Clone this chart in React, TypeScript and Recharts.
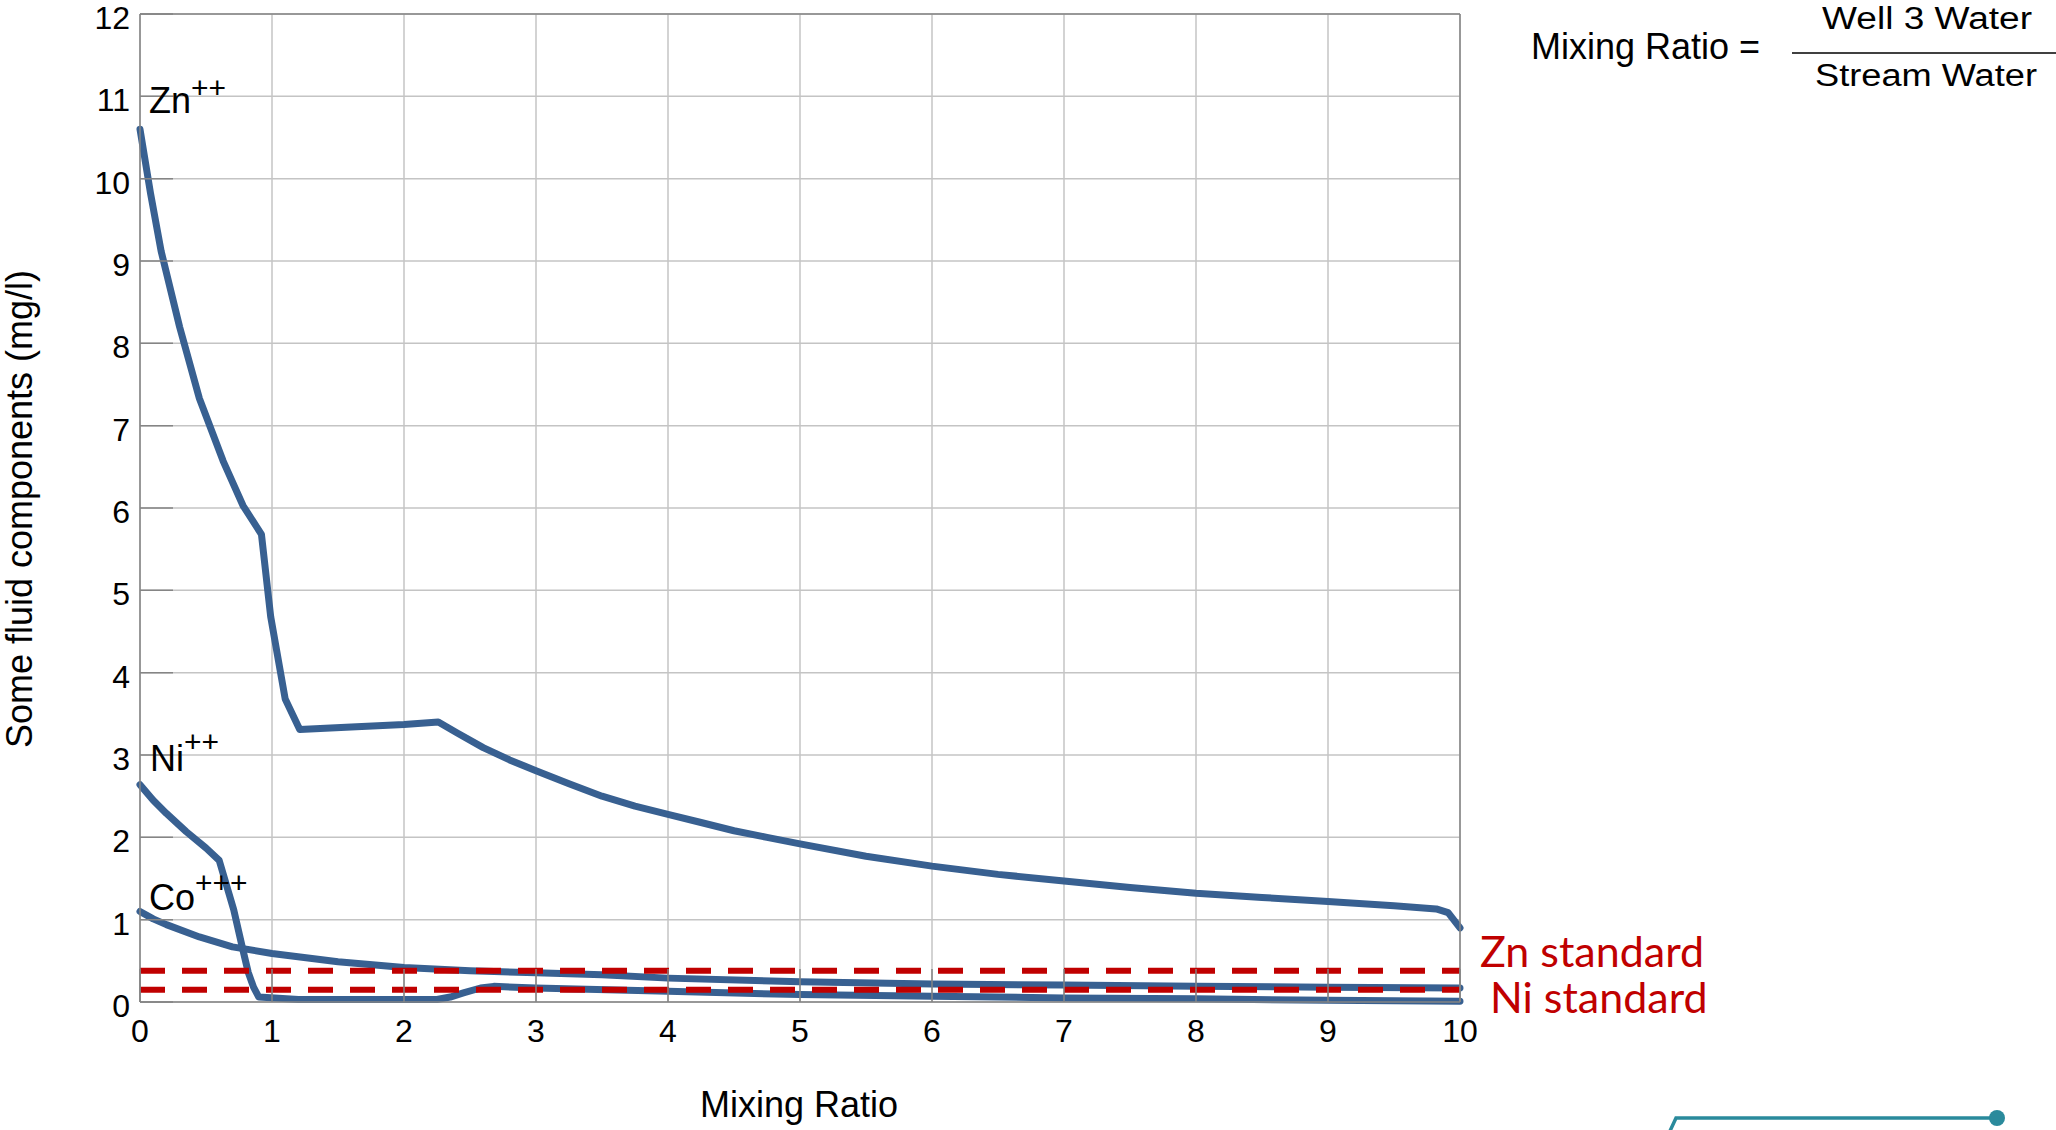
import React from "react";
import { LineChart, Line, XAxis, YAxis, CartesianGrid, LabelList } from "recharts";

// mixing ratio (x) and concentration in mg/l (y)
const znRatio = [0, 0.08, 0.16, 0.3, 0.45, 0.63, 0.78, 0.92, 0.99, 1.1, 1.21, 1.6, 2.0, 2.26, 2.4, 2.6, 2.8, 3, 3.25, 3.5, 3.75, 4, 4.25, 4.5, 4.75, 5, 5.5, 6, 6.5, 7, 7.5, 8, 8.5, 9, 9.5, 9.82, 9.91, 10];
const znConc = [10.6, 9.82, 9.12, 8.2, 7.33, 6.57, 6.03, 5.68, 4.68, 3.68, 3.31, 3.34, 3.37, 3.4, 3.27, 3.09, 2.94, 2.81, 2.65, 2.5, 2.38, 2.28, 2.18, 2.08, 2.0, 1.92, 1.77, 1.65, 1.55, 1.47, 1.39, 1.32, 1.27, 1.22, 1.17, 1.13, 1.085, 0.9];

const niRatio = [0, 0.1, 0.2, 0.35, 0.5, 0.6, 0.71, 0.78, 0.82, 0.86, 0.9, 1.2, 2.25, 2.35, 2.45, 2.58, 2.68, 3, 4, 5, 6, 7, 8, 9, 10];
const niConc = [2.64, 2.45, 2.29, 2.07, 1.87, 1.72, 1.12, 0.63, 0.36, 0.18, 0.06, 0.03, 0.03, 0.06, 0.11, 0.17, 0.19, 0.17, 0.13, 0.09, 0.07, 0.05, 0.04, 0.02, 0.01];

const coRatio = [0, 0.1, 0.2, 0.45, 0.7, 1, 1.5, 2, 2.5, 3, 3.5, 4, 5, 6, 7, 8, 9, 10];
const coConc = [1.1, 1.01, 0.94, 0.79, 0.67, 0.59, 0.49, 0.42, 0.38, 0.355, 0.33, 0.29, 0.245, 0.22, 0.205, 0.19, 0.18, 0.17];

const standardRatio = [0, 10];
const znStandard = 0.38;
const niStandard = 0.15;

const xTicks = [0, 1, 2, 3, 4, 5, 6, 7, 8, 9, 10];
const yTicks = [0, 1, 2, 3, 4, 5, 6, 7, 8, 9, 10, 11, 12];

const toPoints = (xs: number[], ys: number[]) => xs.map((x, i) => ({ x, y: ys[i] }));

const znData = toPoints(znRatio, znConc);
const niData = toPoints(niRatio, niConc);
const coData = toPoints(coRatio, coConc);
const znStdData = standardRatio.map((x) => ({ x, y: znStandard }));
const niStdData = standardRatio.map((x) => ({ x, y: niStandard }));

const BLUE = "#386091";
const RED = "#C00000";
const AXIS = "#858585";
const GRID = "#c4c4c4";
const FONT = "'Liberation Sans', Arial, sans-serif";
const TICK_LEN = 33;

// ticks point inward from every side of the frame
const BottomTick = (props: any) => (
  <g>
    <line x1={props.x} x2={props.x} y1={props.y} y2={props.y - TICK_LEN} stroke={AXIS} strokeWidth={1.5} />
    <text x={props.x} y={props.y + 40} textAnchor="middle" fontSize={32} fontFamily={FONT} fill="#000">
      {props.payload.value}
    </text>
  </g>
);
const LeftTick = (props: any) => (
  <g>
    <line x1={props.x} x2={props.x + TICK_LEN} y1={props.y} y2={props.y} stroke={AXIS} strokeWidth={1.5} />
    <text x={props.x - 10} y={props.y + 15} textAnchor="end" fontSize={32} fontFamily={FONT} fill="#000">
      {props.payload.value}
    </text>
  </g>
);
const TopTick = (props: any) => (
  <line x1={props.x} x2={props.x} y1={props.y} y2={props.y + TICK_LEN} stroke={AXIS} strokeWidth={1.5} />
);
const RightTick = (props: any) => (
  <line x1={props.x} x2={props.x - TICK_LEN} y1={props.y} y2={props.y} stroke={AXIS} strokeWidth={1.5} />
);

const stdLabel = (text: string, dx: number, dy: number) => (props: any) => {
  if (props.index !== 1) return null;
  return (
    <text x={props.x + dx} y={props.y + dy} fill={RED} fontFamily="Lato, 'Open Sans', sans-serif" fontSize={43}>
      {text}
    </text>
  );
};

const seriesStyle = {
  type: "linear" as const,
  stroke: BLUE,
  strokeWidth: 7,
  dot: false,
  strokeLinecap: "round" as const,
  strokeLinejoin: "round" as const,
  isAnimationActive: false,
};

export default function App() {
  return (
    <div style={{ position: "absolute", left: 0, top: 0, width: 2056, height: 1130, background: "#fff" }}>
      <LineChart width={2056} height={1130} margin={{ top: 13, right: 595, bottom: 68, left: 80 }}>
        <CartesianGrid stroke={GRID} strokeWidth={1.5} />
        <XAxis
          type="number"
          dataKey="x"
          domain={[0, 10]}
          ticks={xTicks}
          height={60}
          interval={0}
          stroke={AXIS}
          strokeWidth={1.5}
          tickLine={false}
          tickSize={0}
          tickMargin={0}
          tick={BottomTick}
        />
        <XAxis
          xAxisId="top"
          orientation="top"
          type="number"
          dataKey="x"
          domain={[0, 10]}
          ticks={xTicks}
          height={1}
          interval={0}
          stroke={AXIS}
          strokeWidth={1.5}
          tickLine={false}
          tickSize={0}
          tickMargin={0}
          tick={TopTick}
        />
        <YAxis
          type="number"
          domain={[0, 12]}
          ticks={yTicks}
          width={60}
          interval={0}
          stroke={AXIS}
          strokeWidth={1.5}
          tickLine={false}
          tickSize={0}
          tickMargin={0}
          tick={LeftTick}
        />
        <YAxis
          yAxisId="right"
          orientation="right"
          type="number"
          domain={[0, 12]}
          ticks={yTicks}
          width={1}
          interval={0}
          stroke={AXIS}
          strokeWidth={1.5}
          tickLine={false}
          tickSize={0}
          tickMargin={0}
          tick={RightTick}
        />
        <Line data={znData} dataKey="y" {...seriesStyle} />
        <Line data={niData} dataKey="y" {...seriesStyle} />
        <Line data={coData} dataKey="y" {...seriesStyle} />
        <Line data={znStdData} dataKey="y" type="linear" stroke={RED} strokeWidth={6} strokeDasharray="25 17" dot={false} isAnimationActive={false}>
          <LabelList dataKey="y" content={stdLabel("Zn standard", 20, -4)} />
        </Line>
        <Line data={niStdData} dataKey="y" type="linear" stroke={RED} strokeWidth={6} strokeDasharray="25 17" dot={false} isAnimationActive={false}>
          <LabelList dataKey="y" content={stdLabel("Ni standard", 30, 23)} />
        </Line>
      </LineChart>

      <svg width={2056} height={1130} style={{ position: "absolute", left: 0, top: 0, pointerEvents: "none" }} fontFamily={FONT}>
        <text transform="translate(32,509) rotate(-90)" textAnchor="middle" fontSize={36} fill="#000">
          Some fluid components (mg/l)
        </text>
        <text x={799} y={1117} textAnchor="middle" fontSize={36} fill="#000">
          Mixing Ratio
        </text>

        <text x={149} y={113} fontSize={36} fill="#000">
          Zn<tspan fontSize={30} dy={-15}>++</tspan>
        </text>
        <text x={150} y={771} fontSize={36} fill="#000">
          Ni<tspan fontSize={30} dy={-19}>++</tspan>
        </text>
        <text x={149} y={910} fontSize={36} fill="#000">
          Co<tspan fontSize={30} dy={-17}>+++</tspan>
        </text>

        <text x={1531} y={59} fontSize={36} fill="#000">
          Mixing Ratio =
        </text>
        <text x={1822} y={29} fontSize={31} fill="#000" textLength={210} lengthAdjust="spacingAndGlyphs">
          Well 3 Water
        </text>
        <line x1={1792} x2={2056} y1={53} y2={53} stroke="#404040" strokeWidth={2} />
        <text x={1815} y={86} fontSize={31} fill="#000" textLength={222} lengthAdjust="spacingAndGlyphs">
          Stream Water
        </text>

        <polyline points="1670,1131 1676,1118 1997,1118" fill="none" stroke="#2a8a9c" strokeWidth={3.5} />
        <circle cx={1997} cy={1118} r={8} fill="#2a8a9c" />
      </svg>
    </div>
  );
}
